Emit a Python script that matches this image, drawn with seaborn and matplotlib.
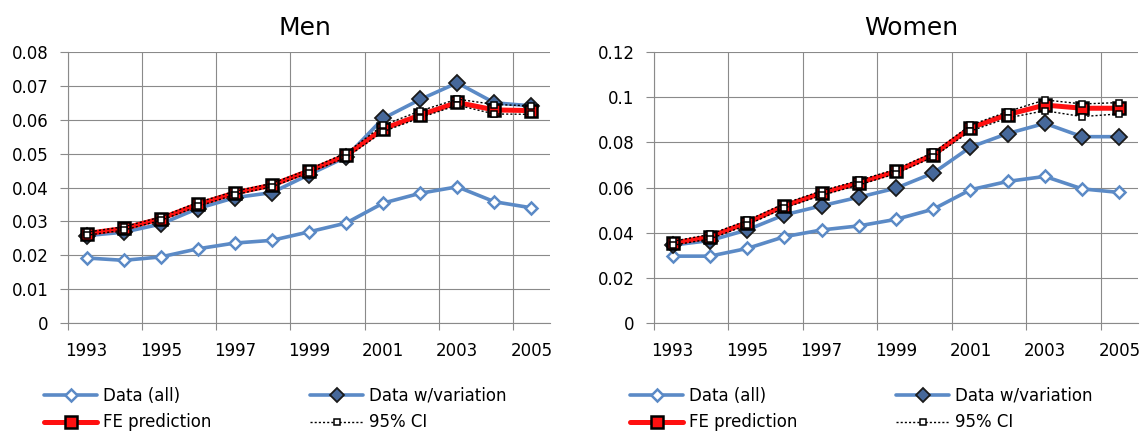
import matplotlib
matplotlib.use("Agg")
import matplotlib.pyplot as plt
import matplotlib.ticker as mtick
from matplotlib.lines import Line2D
import numpy as np
import pandas as pd
import seaborn as sns

# ---- data ----
years = list(range(1993, 2006))

men_all = [0.0192, 0.0185, 0.0195, 0.0219, 0.0236, 0.0244, 0.0269,
           0.0295, 0.0354, 0.0383, 0.0402, 0.0358, 0.0340]
men_var = [0.0258, 0.0268, 0.0292, 0.0338, 0.0370, 0.0385, 0.0438,
           0.0490, 0.0604, 0.0660, 0.0709, 0.0650, 0.0641]
men_fe = [0.0264, 0.0279, 0.0308, 0.0350, 0.0384, 0.0407, 0.0449,
          0.0495, 0.0573, 0.0614, 0.0651, 0.0629, 0.0627]
men_ci_hi = [0.0268, 0.0284, 0.0313, 0.0356, 0.0389, 0.0412, 0.0454,
             0.0502, 0.0584, 0.0626, 0.0661, 0.0645, 0.0641]
men_ci_lo = [0.0259, 0.0274, 0.0303, 0.0344, 0.0379, 0.0402, 0.0444,
             0.0488, 0.0565, 0.0606, 0.0643, 0.0617, 0.0616]

women_all = [0.0296, 0.0296, 0.0330, 0.0382, 0.0412, 0.0430, 0.0459,
             0.0504, 0.0590, 0.0627, 0.0649, 0.0594, 0.0578]
women_var = [0.0345, 0.0365, 0.0412, 0.0479, 0.0519, 0.0557, 0.0597,
             0.0664, 0.0779, 0.0839, 0.0884, 0.0825, 0.0825]
women_fe = [0.0353, 0.0382, 0.0444, 0.0519, 0.0575, 0.0621, 0.0671,
            0.0745, 0.0864, 0.0923, 0.0965, 0.0951, 0.0951]
women_ci_hi = [0.0362, 0.0392, 0.0454, 0.0529, 0.0585, 0.0631, 0.0681,
               0.0755, 0.0876, 0.0936, 0.0988, 0.0970, 0.0976]
women_ci_lo = [0.0344, 0.0372, 0.0434, 0.0509, 0.0565, 0.0611, 0.0661,
               0.0735, 0.0850, 0.0908, 0.0940, 0.0914, 0.0926]

panel_titles = ["Men", "Women"]
legend_labels = ["Data (all)", "Data w/variation", "FE prediction", "95% CI"]

# ---- style ----
sns.set_style("white")
plt.rcParams["font.family"] = ["DejaVu Sans"]
plt.rcParams["text.color"] = "black"

BLUE = "#5B8AC6"
DIAMOND_FILL = "#46689A"
RED = "#FF1010"
GRID = "#8A8A8A"

fig = plt.figure(figsize=(11.4, 4.32), dpi=100)
W, H = 1140, 432


def px_axes(left, top, right, bottom):
    return fig.add_axes([left / W, 1 - bottom / H, (right - left) / W, (bottom - top) / H])


ax_men = px_axes(68, 52, 550, 323)
ax_women = px_axes(654, 52, 1138, 323)


def draw_panel(ax, all_, var, fe, ci_hi, ci_lo, ymax, ystep, title, title_x):
    sns.lineplot(x=years, y=all_, ax=ax, color=BLUE, lw=2.6, marker="D",
                 markersize=6.5, markerfacecolor="white", markeredgecolor=BLUE,
                 markeredgewidth=1.8, zorder=3)
    sns.lineplot(x=years, y=var, ax=ax, color=BLUE, lw=2.6, marker="D",
                 markersize=8, markerfacecolor=DIAMOND_FILL, markeredgecolor="#1a1a1a",
                 markeredgewidth=1.3, zorder=4)
    sns.lineplot(x=years, y=fe, ax=ax, color=RED, lw=3.6, marker="s",
                 markersize=8.5, markerfacecolor=RED, markeredgecolor="black",
                 markeredgewidth=1.8, zorder=5)
    for ci in (ci_hi, ci_lo):
        sns.lineplot(x=years, y=ci, ax=ax, color="black", lw=1.0, ls=(0, (1.5, 1.5)),
                     marker="s", markersize=4.2, markerfacecolor="white",
                     markeredgecolor="black", markeredgewidth=1.1, zorder=6)

    ax.set_xlim(1992.5, 2005.5)
    ax.set_ylim(0, ymax)
    ax.set_xticks(years[::2])
    ax.set_xticks(np.arange(1992.5, 2005.5, 2), minor=True)
    ax.set_yticks(np.arange(0, ymax + ystep / 2, ystep))
    ax.yaxis.set_major_formatter(mtick.FuncFormatter(lambda v, p: f"{round(v, 3):g}"))

    ax.grid(False)
    ax.grid(axis="y", which="major", color=GRID, lw=0.8)
    ax.grid(axis="x", which="minor", color=GRID, lw=0.8)
    ax.set_axisbelow(True)

    ax.tick_params(axis="x", which="major", length=0, pad=14, labelsize=12,
                   labelcolor="black")
    ax.tick_params(axis="x", which="minor", length=5, width=0.8, color=GRID, direction="out")
    ax.tick_params(axis="y", which="major", length=6, width=0.8, color=GRID,
                   direction="out", pad=8, labelsize=12, labelcolor="black")
    ax.xaxis.set_ticks_position("bottom")
    ax.yaxis.set_ticks_position("left")

    for side in ("top", "right"):
        ax.spines[side].set_visible(False)
    for side in ("left", "bottom"):
        ax.spines[side].set_color(GRID)
        ax.spines[side].set_linewidth(0.8)

    ax.set_xlabel("")
    ax.set_ylabel("")
    ax.set_title(title, fontsize=18, x=title_x, pad=12, color="black")
    if ax.get_legend() is not None:
        ax.get_legend().remove()


draw_panel(ax_men, men_all, men_var, men_fe, men_ci_hi, men_ci_lo,
           0.08, 0.01, panel_titles[0], (305 - 68) / (550 - 68))
draw_panel(ax_women, women_all, women_var, women_fe, women_ci_hi, women_ci_lo,
           0.12, 0.02, panel_titles[1], (911 - 654) / (1138 - 654))

# ---- legends below each panel ----
handles = {
    "Data (all)": Line2D([], [], color=BLUE, lw=2.6, marker="D", markersize=6.5,
                         markerfacecolor="white", markeredgecolor=BLUE, markeredgewidth=1.8),
    "Data w/variation": Line2D([], [], color=BLUE, lw=2.6, marker="D", markersize=7.5,
                               markerfacecolor=DIAMOND_FILL, markeredgecolor="#1a1a1a",
                               markeredgewidth=1.3),
    "FE prediction": Line2D([], [], color=RED, lw=3.6, marker="s", markersize=8.5,
                            markerfacecolor=RED, markeredgecolor="black", markeredgewidth=1.8),
    "95% CI": Line2D([], [], color="black", lw=1.0, ls=(0, (1.5, 1.5)), marker="s",
                     markersize=4.2, markerfacecolor="white", markeredgecolor="black",
                     markeredgewidth=1.1),
}
order = [legend_labels[0], legend_labels[2], legend_labels[1], legend_labels[3]]

for ax, x0 in ((ax_men, 44), (ax_women, 630)):
    leg = ax.legend([handles[k] for k in order], order, ncol=2, frameon=False,
                    loc="upper left", bbox_to_anchor=(x0 / W, 1 - 387 / H),
                    bbox_transform=fig.transFigure, fontsize=12, handlelength=3.2,
                    handletextpad=0.35, columnspacing=5.9, labelspacing=0.5,
                    borderpad=0, borderaxespad=0)
    for t in leg.get_texts():
        t.set_color("black")

fig.savefig("out.png", dpi=100)
